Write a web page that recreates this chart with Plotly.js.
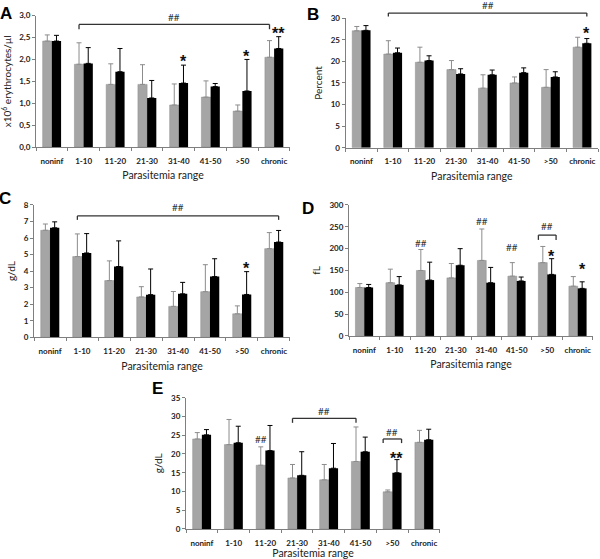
<!DOCTYPE html>
<html><head><meta charset="utf-8">
<script src="https://cdn.plot.ly/plotly-3.0.1.min.js"></script>
<style>html,body{margin:0;padding:0;background:#fff}#chart{width:600px;height:559px}</style>
</head><body><div id="chart"></div>
<script>
// ---------- data ----------
const categories = ['noninf','1-10','11-20','21-30','31-40','41-50','>50','chronic'];

const A_gray     = [2.42,1.89,1.43,1.43,0.96,1.14,0.82,2.05];
const A_grayErr  = [0.14,0.49,0.47,0.45,0.48,0.37,0.14,0.38];
const A_black    = [2.42,1.91,1.72,1.12,1.46,1.38,1.28,2.25];
const A_blackErr = [0.13,0.36,0.53,0.40,0.41,0.07,0.72,0.27];

const B_gray     = [27.1,21.7,19.8,18.1,13.8,15.0,14.0,23.3];
const B_grayErr  = [1.0,3.1,3.5,2.1,3.1,1.4,4.1,2.3];
const B_black    = [27.2,22.0,20.2,17.1,16.9,17.4,16.4,24.2];
const B_blackErr = [1.1,1.1,1.1,1.2,1.1,1.1,1.2,1.1];

const C_gray     = [6.47,4.88,3.43,2.44,1.87,2.76,1.42,5.36];
const C_grayErr  = [0.38,1.37,1.19,0.62,0.90,1.63,0.48,0.97];
const C_black    = [6.62,5.10,4.28,2.58,2.63,3.67,2.59,5.76];
const C_blackErr = [0.36,1.17,1.55,1.55,0.69,1.08,1.38,0.70];

const D_gray     = [111,122,150,133,173,137,168,114];
const D_grayErr  = [9,31,48,33,72,31,37,22];
const D_black    = [111,117,128,162,122,126,141,109];
const D_blackErr = [7,19,41,38,35,9,36,15];

const E_gray     = [24.0,22.5,17.0,13.6,13.1,18.0,9.9,23.1];
const E_grayErr  = [1.7,6.7,4.9,3.6,4.1,9.2,0.5,3.2];
const E_black    = [25.1,23.0,20.9,14.3,16.2,20.6,15.0,23.8];
const E_blackErr = [1.4,4.4,6.7,6.3,6.6,3.9,3.5,2.8];

// ---------- styling / layout ----------
const GRAY = '#a5a5a5', BLACK = '#000000', AXIS = '#7f7f7f';
const FONT = 'Lato, "Liberation Sans", sans-serif';
const BARGAP = 0.42;
const OFF = (1 - BARGAP) / 4;           // centre of each bar relative to category centre
const idx = categories.map((_, i) => i);
const bounds = idx.map(i => i - 0.5).concat([categories.length - 0.5]);

const panels = [
  {n:'', letter:'A', g:A_gray, ge:A_grayErr, b:A_black, be:A_blackErr,
   xdom:[0.060,0.4833], ydom:[0.737,0.972], range:[0,3], dtick:0.5, fmt:'.1f',
   ytitle:'x10<sup>6</sup> erythrocytes/µl', lpos:[6,13],
   marks:[{c:4,s:1,t:'*',y:2.03},{c:6,s:1,t:'*',y:2.14},{c:7,s:1,t:'**',y:2.66}],
   brackets:[{c0:1,s0:-1,c1:7,s1:-1,y:2.80,drop:0.11,t:'##',ty:2.96}]},
  {n:'2', letter:'B', g:B_gray, ge:B_grayErr, b:B_black, be:B_blackErr,
   xdom:[0.576,0.9967], ydom:[0.7358,0.9673], range:[0,30], dtick:5, fmt:'d',
   ytitle:'Percent', lpos:[313,14],
   marks:[{c:7,s:1,t:'*',y:27.1}],
   brackets:[{c0:1,s0:-1,c1:7,s1:1,y:31.2,drop:0.8,t:'##',ty:33.1}]},
  {n:'3', letter:'C', g:C_gray, ge:C_grayErr, b:C_black, be:C_blackErr,
   xdom:[0.0567,0.4833], ydom:[0.3966,0.6333], range:[0,8], dtick:1, fmt:'d',
   ytitle:'g/dL', lpos:[5,198],
   marks:[{c:6,s:1,t:'*',y:4.37}],
   brackets:[{c0:1,s0:-1,c1:7,s1:1,y:7.34,drop:0.24,t:'##',ty:7.9}]},
  {n:'4', letter:'D', g:D_gray, ge:D_grayErr, b:D_black, be:D_blackErr,
   xdom:[0.5817,0.9883], ydom:[0.399,0.6333], range:[0,300], dtick:50, fmt:'d',
   ytitle:'fL', lpos:[308,208],
   marks:[{c:2,s:-1,t:'##',y:212},{c:4,s:-1,t:'##',y:263},{c:5,s:-1,t:'##',y:203},
          {c:6,s:1,t:'*',y:189},{c:7,s:1,t:'*',y:159}],
   brackets:[{c0:6,s0:-2,c1:6,s1:2,y:231,drop:11,t:'##',ty:252}]},
  {n:'5', letter:'E', g:E_gray, ge:E_grayErr, b:E_black, be:E_blackErr,
   xdom:[0.31,0.7333], ydom:[0.0537,0.2885], range:[0,35], dtick:5, fmt:'d',
   ytitle:'g/dL', lpos:[157,388],
   marks:[{c:2,s:-1,t:'##',y:24.0},{c:6,s:1,t:'**',y:19.7}],
   brackets:[{c0:3,s0:-1,c1:5,s1:-1,y:29.5,drop:1.2,t:'##',ty:31.5},
             {c0:6,s0:-2,c1:6,s1:2,y:24.0,drop:1.1,t:'##',ty:25.9}]}
];

const data = [], shapes = [], annotations = [];
const layout = {
  width:600, height:559, margin:{l:0,r:0,t:0,b:0},
  paper_bgcolor:'#fff', plot_bgcolor:'#fff', showlegend:false,
  barmode:'group', bargap:BARGAP, bargroupgap:0, separators:', ',
  font:{family:FONT, color:'#222'}
};

function errObj(arr, color){
  return {type:'data', symmetric:false, array:arr, arrayminus:arr.map(()=>0),
          color:color, thickness:1, width:2.5, visible:true};
}
function xpos(c, s){ return c + s * OFF; }

panels.forEach(p => {
  const xa = 'x' + p.n, ya = 'y' + p.n;
  data.push({type:'bar', x:idx, y:p.g, xaxis:xa, yaxis:ya, marker:{color:GRAY, line:{color:'#8c8c8c', width:0.5}},
             error_y:errObj(p.ge, '#8c8c8c'), hoverinfo:'none'});
  data.push({type:'bar', x:idx, y:p.b, xaxis:xa, yaxis:ya, marker:{color:BLACK},
             error_y:errObj(p.be, BLACK), hoverinfo:'none'});

  layout['xaxis' + p.n] = {
    domain:p.xdom, anchor:ya, range:[-0.5, categories.length - 0.5],
    tickmode:'array', tickvals:idx, ticktext:categories, ticks:'',
    tickfont:{family:FONT, size:8, weight:'bold', color:'#222'}, ticklabelstandoff:6,
    showline:true, linecolor:AXIS, linewidth:1, showgrid:false, zeroline:false,
    minor:{tickmode:'array', tickvals:bounds, ticks:'outside', ticklen:3, tickcolor:AXIS, tickwidth:1, showgrid:false},
    title:{text:'Parasitemia range', font:{family:FONT, size:10.5, color:'#222'}, standoff:7},
    fixedrange:true
  };
  layout['yaxis' + p.n] = {
    domain:p.ydom, anchor:xa, range:p.range, tick0:0, dtick:p.dtick, tickformat:p.fmt,
    ticks:'outside', ticklen:3, tickcolor:AXIS, tickfont:{family:FONT, size:8, weight:'bold', color:'#222'},
    showline:true, linecolor:AXIS, linewidth:1, showgrid:false, zeroline:false,
    title:{text:p.ytitle, font:{family:FONT, size:10, color:'#222'}, standoff:6},
    fixedrange:true
  };

  const ydref = ya + ' domain';
  const top = p.range[1];
  const fy = v => v / top;

  p.marks.forEach(m => {
    const star = m.t.indexOf('*') >= 0;
    annotations.push({xref:xa, yref:ydref, x:xpos(m.c, m.s), y:fy(m.y), text:m.t, showarrow:false,
      xanchor:'center', yanchor:'middle', yshift: star ? -3 : 0,
      font: star ? {family:'"Liberation Sans", sans-serif', size:16, weight:'bold', color:'#111'}
                 : {family:FONT, size:10, color:'#333'}});
  });

  p.brackets.forEach(br => {
    const x0 = br.s0 === -2 ? br.c0 - 2*OFF : xpos(br.c0, br.s0);
    const x1 = br.s1 === 2 ? br.c1 + 2*OFF : xpos(br.c1, br.s1);
    const ln = {type:'line', xref:xa, yref:ydref, line:{color:'#333', width:1.3}};
    shapes.push(Object.assign({}, ln, {x0:x0, x1:x1, y0:fy(br.y), y1:fy(br.y)}));
    shapes.push(Object.assign({}, ln, {x0:x0, x1:x0, y0:fy(br.y), y1:fy(br.y - br.drop)}));
    shapes.push(Object.assign({}, ln, {x0:x1, x1:x1, y0:fy(br.y), y1:fy(br.y - br.drop)}));
    annotations.push({xref:xa, yref:ydref, x:(x0 + x1) / 2, y:fy(br.ty), text:br.t, showarrow:false,
      xanchor:'center', yanchor:'middle', font:{family:FONT, size:10, color:'#333'}});
  });

  annotations.push({xref:'paper', yref:'paper', x:p.lpos[0] / 600, y:1 - p.lpos[1] / 559, text:'<b>' + p.letter + '</b>',
    showarrow:false, xanchor:'center', yanchor:'middle', font:{family:'"Liberation Sans", Arial, sans-serif', size:17, color:'#000'}});
});

layout.shapes = shapes;
layout.annotations = annotations;
Plotly.newPlot('chart', data, layout, {staticPlot:true, displayModeBar:false});
</script>
</body></html>
